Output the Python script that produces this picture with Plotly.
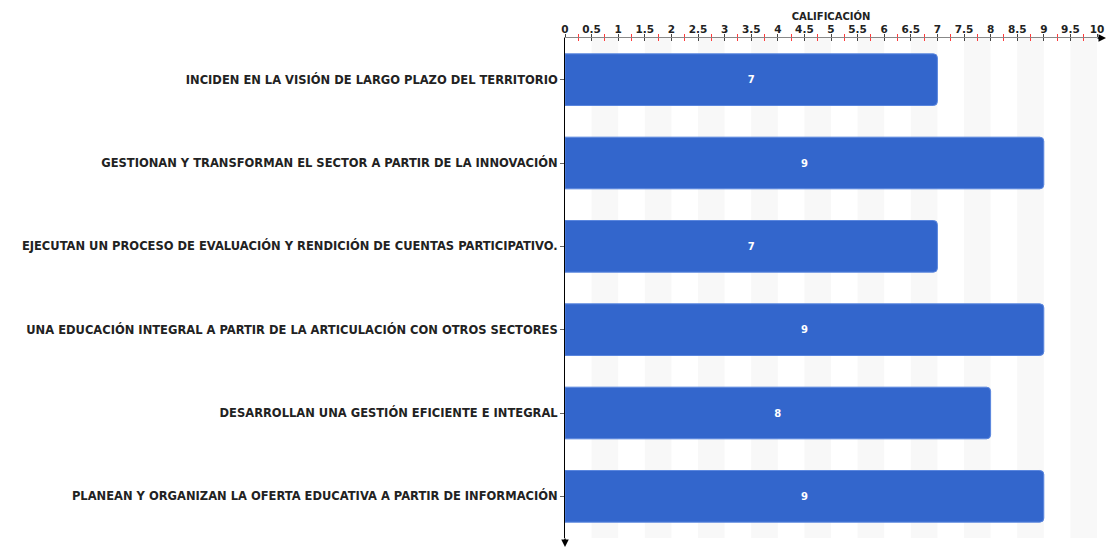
import plotly.graph_objects as go

categories = [
    "INCIDEN EN LA VISIÓN DE LARGO PLAZO DEL TERRITORIO",
    "GESTIONAN Y TRANSFORMAN EL SECTOR A PARTIR DE LA INNOVACIÓN",
    "EJECUTAN UN PROCESO DE EVALUACIÓN Y RENDICIÓN DE CUENTAS PARTICIPATIVO.",
    "UNA EDUCACIÓN INTEGRAL A PARTIR DE LA ARTICULACIÓN CON OTROS SECTORES",
    "DESARROLLAN UNA GESTIÓN EFICIENTE E INTEGRAL",
    "PLANEAN Y ORGANIZAN LA OFERTA EDUCATIVA A PARTIR DE INFORMACIÓN",
]
values = [7, 9, 7, 9, 8, 9]
x_range = [0, 10]
tick_step = 0.5
axis_title = "CALIFICACIÓN"

FONT = "DejaVu Sans"

fig = go.Figure()
fig.add_trace(go.Bar(
    y=categories, x=values, orientation="h",
    marker=dict(color="#3366CC", line=dict(color="#5a86de", width=1), cornerradius=4),
    width=0.62,
    text=[str(v) for v in values], textposition="inside", insidetextanchor="middle",
    textfont=dict(color="white", size=10, family=FONT, weight="bold"),
    hoverinfo="skip",
))
# invisible trace on second x axis for the inside ticks
fig.add_trace(go.Scatter(x=[None], y=[None], xaxis="x2", showlegend=False, hoverinfo="skip"))

# alternating background stripes
shapes = []
n_steps = int(round((x_range[1] - x_range[0]) / tick_step))
for i in range(1, n_steps, 2):
    shapes.append(dict(type="rect", xref="x", yref="paper",
                       x0=x_range[0] + i * tick_step, x1=x_range[0] + (i + 1) * tick_step,
                       y0=0, y1=1, fillcolor="#f8f8f8", line=dict(width=0), layer="below"))

fig.update_layout(
    width=1108, height=550, autosize=False,
    margin=dict(l=565, r=11, t=38, b=12, autoexpand=False),
    plot_bgcolor="white", paper_bgcolor="white",
    showlegend=False,
    shapes=shapes,
    font=dict(family=FONT, color="#222222", size=10),
    xaxis=dict(
        range=x_range, side="top", dtick=tick_step, tick0=0,
        showgrid=False, zeroline=False, automargin=False,
        showline=True, linecolor="#888888", linewidth=1,
        ticks="outside", ticklen=3, tickcolor="#444444",
        ticklabelstandoff=-3,
        tickfont=dict(size=10.5, family=FONT, color="#222222", weight="bold"),
        title=dict(text=axis_title, font=dict(size=10, family=FONT, color="#222222", weight="bold"), standoff=0),
        minor=dict(dtick=tick_step / 2, tick0=0, ticks="outside", ticklen=3, tickcolor="#ff3b3b"),
        fixedrange=True,
    ),
    xaxis2=dict(
        range=x_range, overlaying="x", side="top", dtick=tick_step, tick0=0,
        showgrid=False, zeroline=False, showticklabels=False, automargin=False,
        ticks="inside", ticklen=3, tickcolor="#444444",
        minor=dict(dtick=tick_step / 2, tick0=0, ticks="inside", ticklen=3, tickcolor="#ff3b3b"),
        fixedrange=True,
    ),
    yaxis=dict(
        autorange="reversed", showgrid=False, zeroline=False,
        showline=True, linecolor="black", linewidth=1,
        ticks="outside", ticklen=4, tickcolor="#666666",
        tickfont=dict(size=11.5, family=FONT, color="#222222", weight="bold"),
        automargin=False, fixedrange=True,
    ),
    annotations=[
        dict(x=1, y=1, xref="paper", yref="paper", text="", showarrow=True,
             ax=-10, ay=0, xshift=9, arrowhead=2, arrowsize=1, arrowwidth=1.5, arrowcolor="black"),
        dict(x=0, y=0, xref="paper", yref="paper", text="", showarrow=True,
             ax=0, ay=-10, yshift=-9, arrowhead=2, arrowsize=1, arrowwidth=1.5, arrowcolor="black"),
    ],
)

fig.write_html(
    "out.html",
    config={"displayModeBar": False, "responsive": False},
    post_script="document.body.style.margin='0';document.body.style.overflow='hidden';",
)
